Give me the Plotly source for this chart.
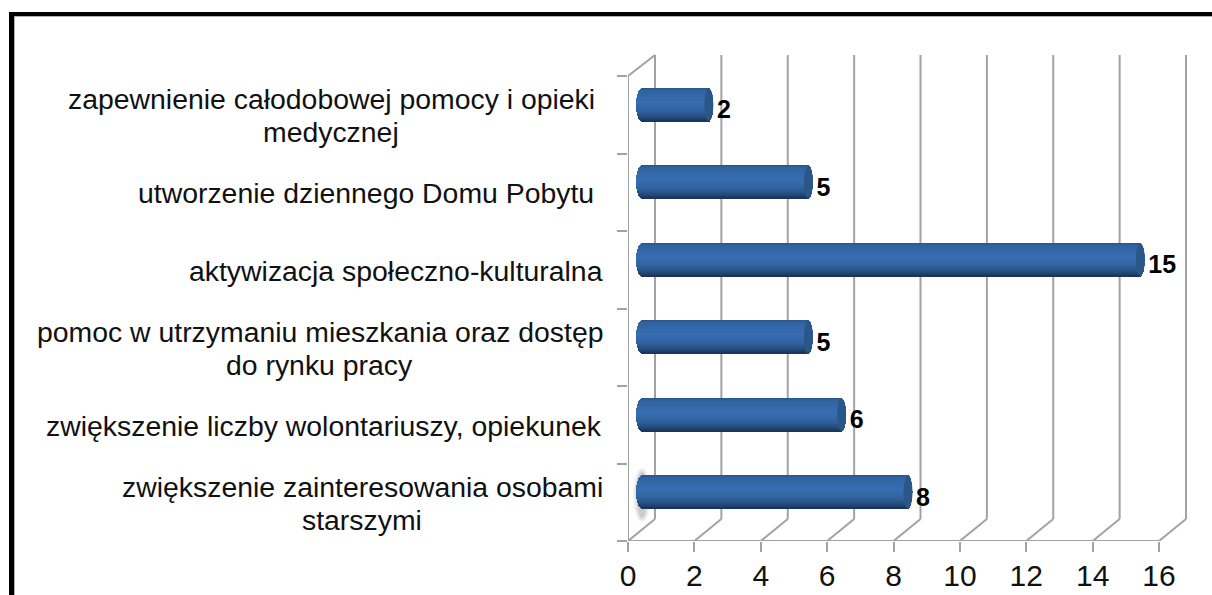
import math
import plotly.graph_objects as go

categories = [
    "zapewnienie całodobowej pomocy i opieki<br>medycznej",
    "utworzenie dziennego Domu Pobytu",
    "aktywizacja społeczno-kulturalna",
    "pomoc w utrzymaniu mieszkania oraz dostęp<br>do rynku pracy",
    "zwiększenie liczby wolontariuszy, opiekunek",
    "zwiększenie zainteresowania osobami<br>starszymi",
]
values = [2, 5, 15, 5, 6, 8]
x_ticks = [0, 2, 4, 6, 8, 10, 12, 14, 16]
label_centers = [331, 366, 396, 320, 324, 362]

W, H = 1212, 595
PX0, PX16, PY_TOP, PY_BOT = 628, 1159, 76, 541
UX = (PX16 - PX0) / 16
UY = (PY_BOT - PY_TOP) / len(categories)
RIGHT, TOP = 1198, 48
xmax = (RIGHT - PX0) / UX
ymin = -0.5 - (PY_TOP - TOP) / UY
DX, DY = 27 / UX, 22 / UY          # depth of the pseudo-3D box
BASE = 14 / UX                     # bars sit in the middle of the depth
SHIFT = -10 / UY
HALF = 16.5 / UY
CAP = 5.0 / UX
GRID = "#a2a2a2"
FONT = "Liberation Sans, Arial, sans-serif"

fig = go.Figure()

wall_top = -0.5 - (PY_TOP - 55) / UY

# floor diagonals and the front axis lines
gx, gy = [], []
for k in x_ticks:
    gx += [k + DX, k, None]
    gy += [5.5 - DY, 5.5, None]
gx += [0, DX, None, 0, 0, None, 0, 16]
gy += [-0.5, wall_top, None, -0.5, 5.5, None, 5.5, 5.5]
fig.add_trace(go.Scatter(x=gx, y=gy, mode="lines", line=dict(color=GRID, width=2),
                         hoverinfo="skip", showlegend=False, cliponaxis=False))

# gradient stops of the cylinder
stops = [(0.0, (44, 84, 135)), (0.08, (48, 98, 160)), (0.45, (55, 110, 178)),
         (0.72, (47, 96, 155)), (0.92, (34, 70, 115)), (1.0, (24, 50, 84))]


def shade(t):
    for (a, ca), (b, cb) in zip(stops, stops[1:]):
        if t <= b:
            f = (t - a) / (b - a)
            return "rgb(%d,%d,%d)" % tuple(round(p + (q - p) * f) for p, q in zip(ca, cb))
    return "rgb(24,50,84)"


N = 33
for j in range(N):
    t = (j + 0.5) / N
    u = 2 * t - 1
    bulge = CAP * math.sqrt(max(0, 1 - u * u))
    fig.add_trace(go.Bar(
        orientation="h",
        y=[i + SHIFT + u * HALF for i in range(len(values))],
        x=[v + 2.2 * bulge for v in values],
        base=[BASE - bulge * 1.2] * len(values),
        width=1.5 * (2 * HALF / N),
        marker=dict(color=shade(t), line=dict(width=0)),
        hoverinfo="skip", showlegend=False,
    ))

# value labels
fig.add_trace(go.Scatter(
    x=[v + BASE + 8.5 / UX for v in values],
    y=[i + SHIFT + 7 / UY for i in range(len(values))],
    text=["<b>%d</b>" % v for v in values],
    mode="text", textposition="middle right",
    textfont=dict(family=FONT, size=25, color="#000000"),
    hoverinfo="skip", showlegend=False, cliponaxis=False,
))

shapes = []
# back wall verticals stay behind the bars
for k in x_ticks:
    shapes.append(dict(type="line", xref="x", yref="y", layer="below",
                       x0=k + DX, x1=k + DX, y0=wall_top, y1=5.5 - DY,
                       line=dict(color=GRID, width=2)))
# end caps
for i, v in enumerate(values):
    shapes.append(dict(type="circle", xref="x", yref="y",
                       x0=v + BASE - CAP * 0.8, x1=v + BASE + CAP,
                       y0=i + SHIFT - HALF * 0.98, y1=i + SHIFT + HALF * 0.98,
                       fillcolor="#2a5688", line=dict(width=0)))
# soft shadow next to the lowest bar
for pad, op in ((0, .10), (2, .14), (4, .18)):
    shapes.append(dict(type="circle", xref="paper", yref="paper", layer="below",
                       x0=(633 + pad) / W, x1=(651 - pad) / W,
                       y0=1 - (522 - pad) / H, y1=1 - (468 + pad) / H,
                       fillcolor="#777777", opacity=op, line=dict(width=0)))
# picture frame
frame = [(9, 12, W, 16, "#000000"), (9, 12, 14, H, "#000000"),
         (14, 16, W, 17, "#b0b0b0"), (14, 16, 15, H, "#b0b0b0")]
for x0, y0, x1, y1, c in frame:
    shapes.append(dict(type="rect", xref="paper", yref="paper",
                       x0=x0 / W, x1=x1 / W, y0=1 - y0 / H, y1=1 - y1 / H,
                       fillcolor=c, line=dict(width=0)))

LINE = 33 / UY
annotations = []
for i, c in enumerate(categories):
    parts = c.split("<br>")
    for n, part in enumerate(parts):
        annotations.append(dict(
            text=part, xref="paper", yref="y", x=label_centers[i] / W,
            y=i + 1.2 / UY + (n - (len(parts) - 1) / 2) * LINE, xanchor="center", yanchor="middle",
            showarrow=False, font=dict(family=FONT, size=28.4, color="#111111")))

fig.update_layout(
    width=W, height=H, autosize=False, margin=dict(l=0, r=0, t=0, b=0, pad=0, autoexpand=False),
    paper_bgcolor="white", plot_bgcolor="white",
    barmode="overlay", bargap=0, showlegend=False,
    shapes=shapes, annotations=annotations,
    xaxis=dict(domain=[PX0 / W, RIGHT / W], range=[0, xmax], tickmode="array",
               tickvals=x_ticks, ticktext=[str(k) for k in x_ticks], ticks="outside",
               ticklen=10, tickwidth=2, tickcolor=GRID, showgrid=False, zeroline=False,
               showline=False, ticklabelstandoff=-2,
               tickfont=dict(family=FONT, size=30, color="#111111")),
    yaxis=dict(domain=[1 - PY_BOT / H, 1 - TOP / H], range=[5.5, ymin], tickmode="array",
               tickvals=[-0.5 + k for k in range(7)], ticktext=[""] * 7, ticks="outside",
               ticklen=10, tickwidth=2, tickcolor=GRID, showgrid=False, zeroline=False,
               showline=False),
)

fig.write_html("out.html", config={"displayModeBar": False, "responsive": False},
               post_script="document.body.style.margin='0';document.body.style.overflow='hidden';")
